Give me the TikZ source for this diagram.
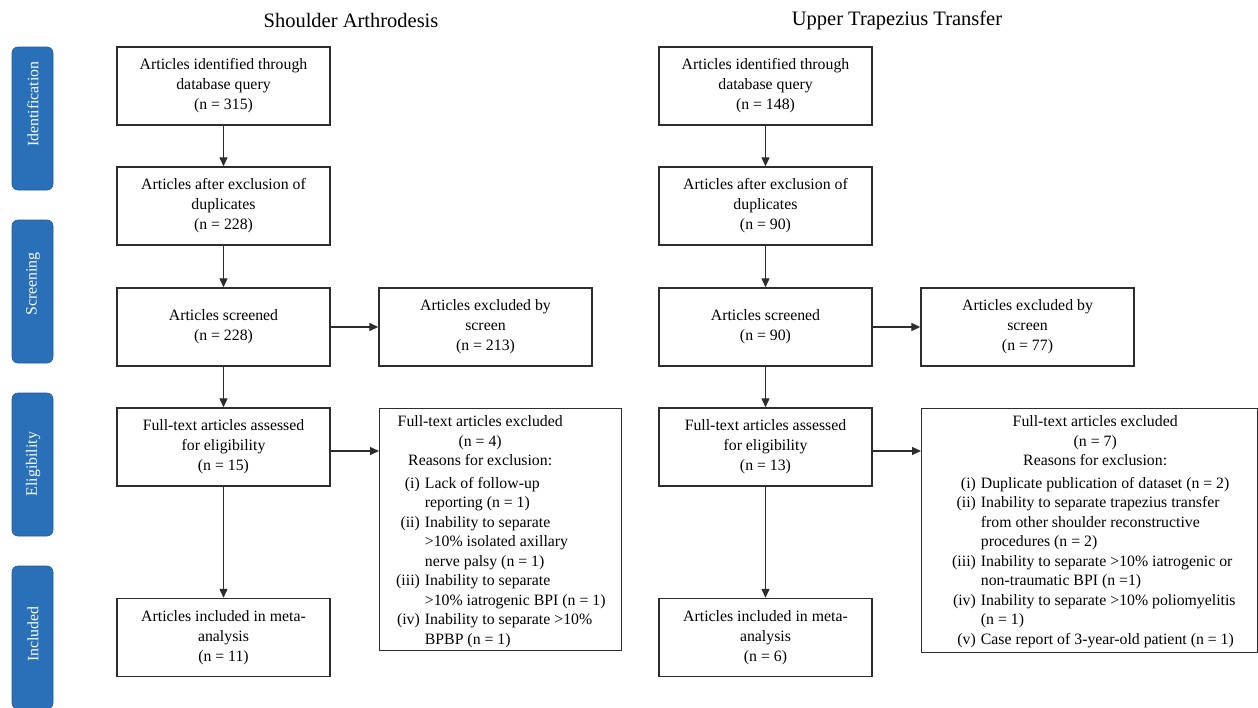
\documentclass[tikz,border=0pt]{standalone}
\usepackage{fontspec}
\setmainfont{Liberation Serif}
\usetikzlibrary{arrows.meta}
\definecolor{tabblue}{RGB}{41,112,185}
\definecolor{tabedge}{RGB}{30,90,158}
\definecolor{boxline}{RGB}{45,45,45}
\begin{document}
\begin{tikzpicture}[x=1pt,y=-1pt,
  box/.style={draw=boxline, line width=1.4pt, minimum width=213pt, minimum height=78pt,
    align=center, inner sep=0pt, font=\fontsize{15.8}{20}\selectfont},
  frame/.style={draw=boxline, line width=1.4pt, inner sep=0pt, anchor=north west},
  listtext/.style={anchor=north west, inner sep=0pt, font=\fontsize{15.8}{19.5}\selectfont},
  arr/.style={draw=boxline, line width=1.3pt, -{Triangle[length=9pt,width=8pt]}},
  tab/.style={fill=tabblue, draw=tabedge, line width=0.6pt, rounded corners=6pt,
    minimum width=41pt, minimum height=143pt, inner sep=0pt},
  tabtext/.style={text=white, rotate=90, inner sep=0pt, font=\fontsize{15.8}{18}\selectfont},
  title/.style={inner sep=0pt, font=\fontsize{20.5}{24}\selectfont}]
\useasboundingbox (0,0) rectangle (1258,707);

% phase tabs
\node[tab] (tabI) at (32.5,118.5) {};
\node[tabtext] (tabIt) at (33,104) {Identification};
\node[tab] (tabS) at (32.5,291.5) {};
\node[tabtext] (tabSt) at (33,284) {Screening};
\node[tab] (tabE) at (32.5,464.5) {};
\node[tabtext] (tabEt) at (33,464) {Eligibility};
\node[tab] (tabN) at (32.5,637.5) {};
\node[tabtext] (tabNt) at (33,634) {Included};

% titles
\node[title] (tL) at (351,20) {Shoulder Arthrodesis};
\node[title] (tR) at (897,20) {Upper Trapezius Transfer};

% left column
\node[box] (L1) at (223.5,86) {Articles identified through\\database query\\(n = 315)};
\node[box] (L2) at (223.5,206) {Articles after exclusion of\\duplicates\\(n = 228)};
\node[box] (L3) at (223.5,327) {Articles screened\\(n = 228)};
\node[box] (L4) at (223.5,447) {Full-text articles assessed\\for eligibility\\(n = 15)};
\node[box] (L5) at (223.5,637.5) {Articles included in meta-\\analysis\\(n = 11)};
\node[box] (LS) at (485.5,327) {Articles excluded by\\screen\\(n = 213)};
\node[frame, minimum width=242pt, minimum height=242pt] (LF) at (379,408) {};
\node[listtext] (LFt) at (396,413) {\begin{tabular}{@{}r@{\hspace{5pt}}l@{}}
\multicolumn{2}{@{}l@{}}{\makebox[168pt][c]{Full-text articles excluded}}\\
\multicolumn{2}{@{}l@{}}{\makebox[168pt][c]{(n = 4)}}\\
\multicolumn{2}{@{}l@{}}{\makebox[168pt][c]{Reasons for exclusion:}}\\[3pt]
(i) & Lack of follow-up\\
 & reporting (n = 1)\\
(ii) & Inability to separate\\
 & >10\% isolated axillary\\
 & nerve palsy (n = 1)\\
(iii) & Inability to separate\\
 & >10\% iatrogenic BPI (n = 1)\\
(iv) & Inability to separate >10\%\\
 & BPBP (n = 1)
\end{tabular}};

% right column
\node[box] (R1) at (765.5,86) {Articles identified through\\database query\\(n = 148)};
\node[box] (R2) at (765.5,206) {Articles after exclusion of\\duplicates\\(n = 90)};
\node[box] (R3) at (765.5,327) {Articles screened\\(n = 90)};
\node[box] (R4) at (765.5,447) {Full-text articles assessed\\for eligibility\\(n = 13)};
\node[box] (R5) at (765.5,637.5) {Articles included in meta-\\analysis\\(n = 6)};
\node[box] (RS) at (1027.5,327) {Articles excluded by\\screen\\(n = 77)};
\node[frame, minimum width=336pt, minimum height=244pt] (RF) at (921,408) {};
\node[listtext] (RFt) at (952,413) {\begin{tabular}{@{}r@{\hspace{5pt}}l@{}}
\multicolumn{2}{@{}l@{}}{\makebox[286pt][c]{Full-text articles excluded}}\\
\multicolumn{2}{@{}l@{}}{\makebox[286pt][c]{(n = 7)}}\\
\multicolumn{2}{@{}l@{}}{\makebox[286pt][c]{Reasons for exclusion:}}\\[3pt]
(i) & Duplicate publication of dataset (n = 2)\\
(ii) & Inability to separate trapezius transfer\\
 & from other shoulder reconstructive\\
 & procedures (n = 2)\\
(iii) & Inability to separate >10\% iatrogenic or\\
 & non-traumatic BPI (n =1)\\
(iv) & Inability to separate >10\% poliomyelitis\\
 & (n = 1)\\
(v) & Case report of 3-year-old patient (n = 1)
\end{tabular}};

% connectors
\draw[arr] (L1) -- (L2);
\draw[arr] (L2) -- (L3);
\draw[arr] (L3) -- (L4);
\draw[arr] (L4) -- (L5);
\draw[arr] (L3) -- (LS);
\draw[arr] ([yshift=-4pt]L4.east) -- ([yshift=-4pt]L4.east -| LF.west);
\draw[arr] (R1) -- (R2);
\draw[arr] (R2) -- (R3);
\draw[arr] (R3) -- (R4);
\draw[arr] (R4) -- (R5);
\draw[arr] (R3) -- (RS);
\draw[arr] ([yshift=-4pt]R4.east) -- ([yshift=-4pt]R4.east -| RF.west);
\end{tikzpicture}
\end{document}
